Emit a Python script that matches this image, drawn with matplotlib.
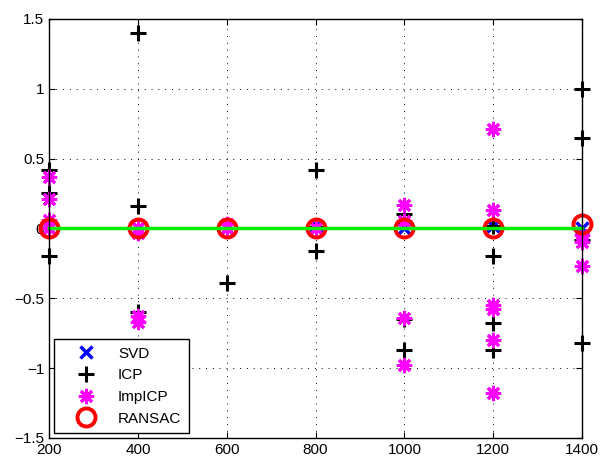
import matplotlib
matplotlib.use('Agg')
import matplotlib.pyplot as plt

plt.rcParams['font.family'] = ['Liberation Sans', 'DejaVu Sans']

# SVD errors
svd_x = [200, 400, 600, 800, 1000, 1200, 1400]
svd_y = [0.0, 0.0, 0.0, 0.02, 0.0, 0.02, 0.0]

# ICP errors
icp_x = [200, 200, 200, 200,
         400, 400, 400, 400,
         600, 600,
         800, 800, 800,
         1000, 1000, 1000,
         1200, 1200, 1200, 1200,
         1400, 1400, 1400, 1400]
icp_y = [0.42, 0.25, -0.20, 0.0,
         1.40, 0.16, -0.60, 0.0,
         -0.39, 0.0,
         0.42, -0.16, 0.01,
         0.10, -0.65, -0.87,
         0.02, -0.20, -0.68, -0.87,
         1.00, 0.65, -0.08, -0.82]

# improved ICP errors
imp_x = [200, 200, 200, 200,
         400, 400, 400, 400,
         600, 600,
         800,
         1000, 1000, 1000, 1000,
         1200, 1200, 1200, 1200, 1200, 1200,
         1400, 1400, 1400]
imp_y = [0.37, 0.21, 0.06, 0.0,
         0.0, -0.03, -0.63, -0.67,
         0.03, 0.0,
         0.0,
         0.17, 0.05, -0.64, -0.98,
         0.71, 0.13, -0.55, -0.58, -0.80, -1.18,
         -0.05, -0.10, -0.27]

# RANSAC errors
ransac_x = [200, 400, 600, 800, 1000, 1200, 1400]
ransac_y = [0.0, 0.0, 0.0, 0.0, 0.0, 0.0, 0.03]

# ground truth line
ref_x = [200, 1400]
ref_y = [0, 0]

fig = plt.figure(figsize=(6, 4.59), dpi=100)
ax = fig.add_axes([0.082, 0.046, 0.888, 0.913])

ax.plot(svd_x, svd_y, 'x', color='blue', markersize=9, mew=2.5, label='SVD',
        clip_on=False)
ax.plot(icp_x, icp_y, '+', color='black', markersize=12, mew=2.2, label='ICP',
        clip_on=False)
ax.plot(imp_x, imp_y, linestyle='none', marker=(8, 2, 0), color='magenta',
        markersize=11, mew=2.2, label='ImpICP', clip_on=False)
ax.plot(ransac_x, ransac_y, 'o', color='red', mfc='none', markersize=13, mew=2.8,
        label='RANSAC', clip_on=False)
ax.plot(ref_x, ref_y, '-', color='#00ee00', linewidth=2.5, clip_on=False)

ax.set_xlim(200, 1400)
ax.set_ylim(-1.5, 1.5)
ax.set_xticks([200, 400, 600, 800, 1000, 1200, 1400])
ax.set_yticks([-1.5, -1, -0.5, 0, 0.5, 1, 1.5])
ax.set_yticklabels(['\u22121.5', '\u22121', '\u22120.5', '0', '0.5', '1', '1.5'])
ax.tick_params(direction='in', top=True, right=True, labelsize=11, length=4)
ax.grid(True, linestyle=(0, (1, 6)), color='black', linewidth=0.7)
for s in ax.spines.values():
    s.set_linewidth(1.0)

leg = ax.legend(loc='lower left', fontsize=11, fancybox=False, edgecolor='black',
                framealpha=1, borderaxespad=0.3, handlelength=3.2,
                handletextpad=0.5, numpoints=1, labelspacing=0.5, borderpad=0.5)
leg.get_frame().set_linewidth(1.0)

fig.savefig('out.png', dpi=100)
